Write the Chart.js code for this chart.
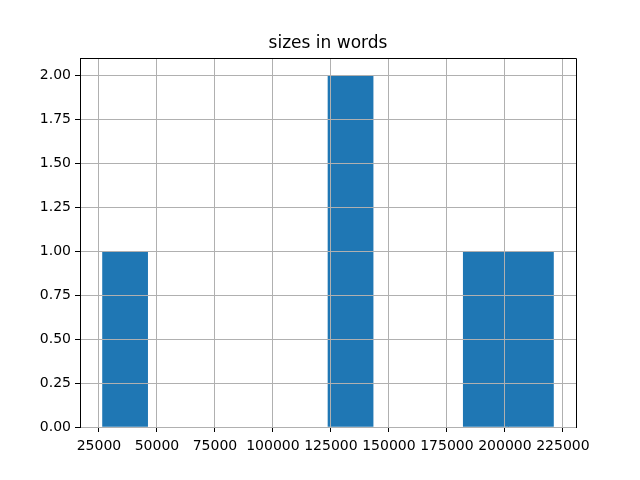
<!DOCTYPE html>
<html>
<head>
<meta charset="utf-8">
<script src="https://cdn.jsdelivr.net/npm/chart.js@4"></script>
<style>
  body { margin: 0; background: #fff; }
</style>
</head>
<body>
<canvas id="histChart" width="640" height="480"></canvas>
<script>
// histogram of word counts, 10 bins
const binCenters = [36276, 55714, 75152, 94590, 114028, 133466, 152904, 172342, 191780, 211218];
const binCounts = [1, 0, 0, 0, 0, 2, 0, 0, 1, 1];
const xTicks = [25000, 50000, 75000, 100000, 125000, 150000, 175000, 200000, 225000];
const yTicks = [0, 0.25, 0.5, 0.75, 1.0, 1.25, 1.5, 1.75, 2.0];
const xRange = [16838, 230653];
const yRange = [0, 2.1];

Chart.defaults.font.family = 'DejaVu Sans';
Chart.defaults.color = '#000';

// top + right spines like matplotlib
const frame = {
  id: 'frame',
  afterDraw(chart) {
    const { ctx, chartArea: a } = chart;
    ctx.save();
    ctx.strokeStyle = '#000';
    ctx.lineWidth = 1;
    ctx.beginPath();
    ctx.moveTo(a.left, a.top + 0.5);
    ctx.lineTo(a.right + 0.5, a.top + 0.5);
    ctx.lineTo(a.right + 0.5, a.bottom);
    ctx.stroke();
    ctx.restore();
  }
};

const ctx = document.getElementById('histChart');
new Chart(ctx, {
  type: 'bar',
  data: {
    datasets: [{
      // empty bins -> null so no hairline is painted on the axis
      data: binCenters.map((x, i) => ({ x: x, y: binCounts[i] || null })),
      backgroundColor: '#1f77b4',
      borderWidth: 0,
      barPercentage: 1,
      categoryPercentage: 1
    }]
  },
  options: {
    responsive: false,
    animation: false,
    layout: { padding: { left: 16, right: 0, top: 0, bottom: 0 } },
    plugins: {
      legend: { display: false },
      tooltip: { enabled: false },
      title: {
        display: true,
        text: 'sizes in words',
        color: '#000',
        font: { size: 17, weight: 'normal' },
        padding: { top: 33, bottom: 4.6 }
      }
    },
    scales: {
      x: {
        type: 'linear',
        min: xRange[0],
        max: xRange[1],
        offset: false,
        afterBuildTicks: s => { s.ticks = xTicks.map(v => ({ value: v })); },
        afterFit: s => { s.height = 53; },
        grid: { offset: false, z: 1, color: '#b0b0b0', lineWidth: 1, tickColor: '#000', tickLength: 5 },
        border: { color: '#000', width: 1, z: 1 },
        ticks: { font: { size: 14 }, padding: 6, maxRotation: 0, autoSkip: false, callback: v => String(v) }
      },
      y: {
        min: yRange[0],
        max: yRange[1],
        afterBuildTicks: s => { s.ticks = yTicks.map(v => ({ value: v })); },
        afterFit: s => { s.width = 64; },
        grid: { z: 1, color: '#b0b0b0', lineWidth: 1, tickColor: '#000', tickLength: 5 },
        border: { color: '#000', width: 1, z: 1 },
        ticks: { font: { size: 14 }, padding: 4, callback: v => v.toFixed(2) }
      },
      // empty right-hand margin, keeps the title centred over the plot
      yRight: {
        position: 'right',
        afterFit: s => { s.width = 64; },
        grid: { display: false },
        border: { display: false },
        ticks: { display: false }
      }
    }
  },
  plugins: [frame]
});
</script>
</body>
</html>
